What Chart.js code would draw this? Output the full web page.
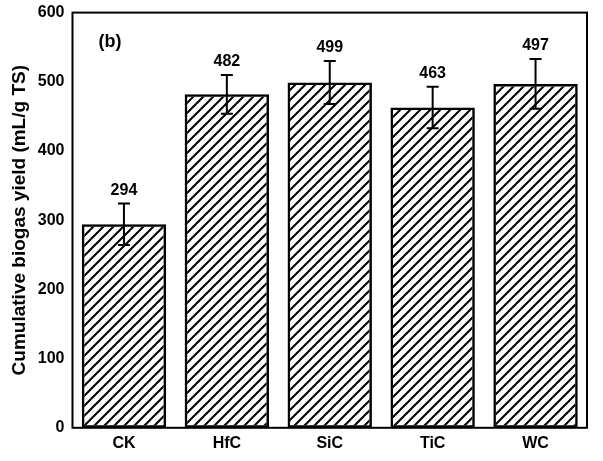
<!DOCTYPE html>
<html><head><meta charset="utf-8">
<script src="https://cdn.jsdelivr.net/npm/chart.js@4"></script>
<style>body{margin:0;background:#fff}#w{width:603px;height:461px}</style>
</head><body><div id="w"><canvas id="c"></canvas></div>
<script>
const categories = ['CK', 'HfC', 'SiC', 'TiC', 'WC'];
const yields = [294, 482, 499, 463, 497];
const errors = [30, 28, 31, 30, 36];

// diagonal hatch
const pc = document.createElement('canvas');
pc.width = 10; pc.height = 10;
const px = pc.getContext('2d');
px.strokeStyle = '#000'; px.lineWidth = 2;
px.beginPath();
px.moveTo(-2, 12); px.lineTo(12, -2);
px.moveTo(-12, 12); px.lineTo(2, -2);
px.moveTo(8, 12); px.lineTo(22, -2);
px.stroke();
const hatch = px.createPattern(pc, 'repeat');

const errPlugin = {
  id: 'err',
  afterDatasetsDraw(chart) {
    const ctx = chart.ctx, y = chart.scales.y;
    chart.getDatasetMeta(0).data.forEach((bar, i) => {
      const top = y.getPixelForValue(yields[i] + errors[i]);
      const bot = y.getPixelForValue(yields[i] - errors[i]);
      ctx.save();
      ctx.strokeStyle = '#000'; ctx.lineWidth = 2;
      ctx.beginPath();
      ctx.moveTo(bar.x, top); ctx.lineTo(bar.x, bot);
      ctx.moveTo(bar.x - 6, top); ctx.lineTo(bar.x + 6, top);
      ctx.moveTo(bar.x - 6, bot); ctx.lineTo(bar.x + 6, bot);
      ctx.stroke();
      ctx.fillStyle = '#000';
      ctx.font = 'bold 16px Arial, "Liberation Sans"';
      ctx.textAlign = 'center'; ctx.textBaseline = 'bottom';
      ctx.fillText(String(yields[i]), bar.x, top - 5);
      ctx.restore();
    });
    const a = chart.chartArea;
    ctx.save();
    ctx.strokeStyle = '#000'; ctx.lineWidth = 2;
    ctx.strokeRect(a.left, a.top, a.right - a.left, a.bottom - a.top);
    ctx.font = 'bold 18px Arial, "Liberation Sans"';
    ctx.fillStyle = '#000';
    ctx.fillText('(b)', a.left + 26, a.top + 34);
    ctx.restore();
  }
};

new Chart(document.getElementById('c'), {
  type: 'bar',
  data: { labels: categories, datasets: [{ data: yields, backgroundColor: hatch, borderColor: '#000', borderWidth: 2.5, borderSkipped: false, categoryPercentage: 0.82, barPercentage: 1 }] },
  options: {
    responsive: true, maintainAspectRatio: false, animation: false,
    layout: { padding: { top: 10, right: 16, bottom: 2, left: 4 } },
    plugins: { legend: { display: false }, tooltip: { enabled: false } },
    scales: {
      x: { grid: { display: false, drawTicks: false }, border: { display: false },
           ticks: { color: '#000', padding: 6, font: { size: 16, weight: 'bold', family: 'Arial, "Liberation Sans"' } } },
      y: { min: 0, max: 600, grid: { display: false, drawOnChartArea: false, drawTicks: true, tickLength: 5, color: '#000' }, border: { display: false },
           ticks: { stepSize: 100, color: '#000', font: { size: 16, weight: 'bold', family: 'Arial, "Liberation Sans"' } },
           title: { display: true, text: 'Cumulative biogas yield (mL/g TS)', color: '#000', font: { size: 19, weight: 'bold', family: 'Arial, "Liberation Sans"' } } }
    }
  },
  plugins: [errPlugin]
});
</script></body></html>
